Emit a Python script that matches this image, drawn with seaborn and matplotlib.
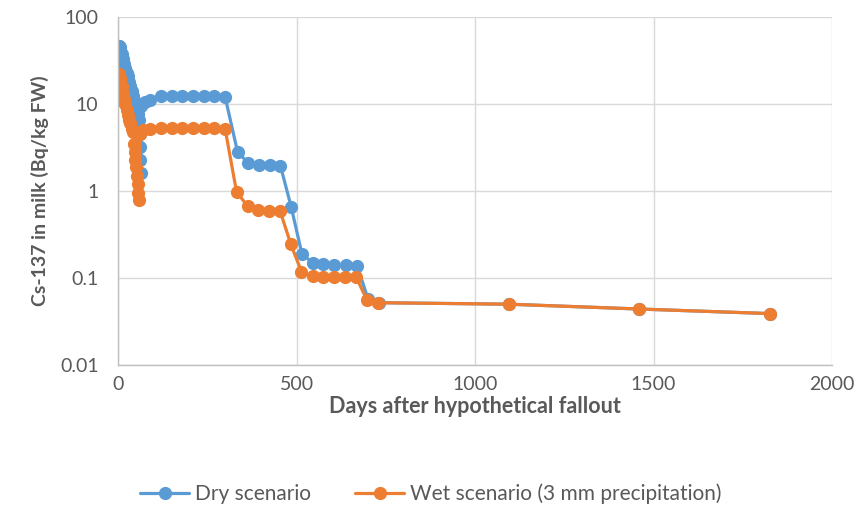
import matplotlib
matplotlib.use("Agg")
import matplotlib.pyplot as plt
import seaborn as sns
import pandas as pd
from matplotlib.ticker import FixedLocator, FixedFormatter, NullLocator

# ---- data ----
dry_days = [1, 2, 3, 4, 5, 7, 10, 14, 18, 21, 25, 28, 32, 35, 39, 42, 46, 49, 53, 56, 60,
            61, 62, 63, 64, 65, 75, 90, 120, 150, 180, 210, 240, 270, 300,
            335, 365, 395, 425, 455, 485, 515, 545, 575, 605, 640, 670, 700, 730,
            1095, 1460, 1825]
dry_vals = [35, 44, 47, 46, 45, 42, 38, 33, 29, 26, 23, 21, 18, 16, 14, 12.5, 11, 9.8, 8.5, 7.6, 6.5,
            4.5, 3.2, 2.3, 1.6, 9.5, 10.5, 11.2, 12.2, 12.2, 12.2, 12.2, 12.2, 12.2, 12.1,
            2.8, 2.1, 2.0, 1.97, 1.95, 0.66, 0.19, 0.15, 0.145, 0.14, 0.14, 0.138, 0.058, 0.052,
            0.050, 0.044, 0.039]

wet_days = [1, 2, 3, 4, 5, 7, 10, 14, 18, 21, 25, 28, 32, 35, 39, 42, 45, 47, 49, 51, 53, 55, 57, 59,
            62, 70, 90, 120, 150, 180, 210, 240, 270, 300,
            332, 363, 393, 423, 454, 484, 514, 545, 575, 606, 637, 667, 697, 729,
            1095, 1460, 1825]
wet_vals = [11, 17, 22, 21, 20, 18, 16, 13.5, 11.5, 10, 8.5, 7.5, 6.5, 6, 5.2, 4.8, 3.5, 2.8, 2.3, 1.9, 1.5, 1.2, 0.95, 0.78,
            4.5, 5.0, 5.2, 5.3, 5.3, 5.3, 5.3, 5.3, 5.3, 5.2,
            0.98, 0.67, 0.6, 0.59, 0.59, 0.245, 0.118, 0.105, 0.104, 0.103, 0.103, 0.103, 0.056, 0.052,
            0.050, 0.044, 0.039]

series_names = ["Dry scenario", "Wet scenario (3 mm precipitation)"]
y_ticks = [0.01, 0.1, 1, 10, 100]
y_tick_labels = ["0.01", "0.1", "1", "10", "100"]
x_ticks = [0, 500, 1000, 1500, 2000]

df = pd.concat([
    pd.DataFrame({"day": dry_days, "value": dry_vals, "scenario": series_names[0]}),
    pd.DataFrame({"day": wet_days, "value": wet_vals, "scenario": series_names[1]}),
], ignore_index=True)

sns.set_theme(style="white")
plt.rcParams["font.family"] = ["Lato", "DejaVu Sans"]

fig = plt.figure(figsize=(8.56, 5.08), dpi=100)
ax = fig.add_axes([118 / 856, 1 - 365 / 508, (832 - 118) / 856, (365 - 17) / 508])

palette = {series_names[0]: "#5B9BD5", series_names[1]: "#ED7D31"}
sns.lineplot(data=df, x="day", y="value", hue="scenario", palette=palette,
             marker="o", markersize=9.5, markeredgewidth=0, linewidth=2.3,
             sort=False, estimator=None, ax=ax)

ax.set_yscale("log")
ax.set_ylim(0.01, 100)
ax.set_xlim(0, 2000)
ax.yaxis.set_major_locator(FixedLocator(y_ticks))
ax.yaxis.set_major_formatter(FixedFormatter(y_tick_labels))
ax.yaxis.set_minor_locator(NullLocator())
ax.set_xticks(x_ticks)
ax.set_xticklabels([str(t) for t in x_ticks])

ax.grid(True, color="#d9d9d9", linewidth=1.0)
ax.set_axisbelow(True)
for s in ["top", "right"]:
    ax.spines[s].set_visible(False)
for s in ["left", "bottom"]:
    ax.spines[s].set_color("#bfbfbf")
    ax.spines[s].set_linewidth(1.0)
ax.tick_params(axis="both", length=0, labelsize=14, colors="#595959")
ax.tick_params(axis="y", pad=14)
ax.tick_params(axis="x", pad=8)

ax.set_xlabel("Days after hypothetical fallout", fontsize=15.5, fontweight="bold",
              color="#595959", labelpad=2)
ax.set_ylabel("Cs-137 in milk (Bq/kg FW)", fontsize=14, fontweight="bold",
              color="#595959", labelpad=8)

handles, labels = ax.get_legend_handles_labels()
ax.legend(handles, labels, loc="center", bbox_to_anchor=(431 / 856, 1 - 494 / 508),
          bbox_transform=fig.transFigure, ncol=2, frameon=False, fontsize=15,
          handlelength=2.35, columnspacing=2.1, handletextpad=0.3, labelcolor="#595959")

fig.savefig("out.png", dpi=100)
